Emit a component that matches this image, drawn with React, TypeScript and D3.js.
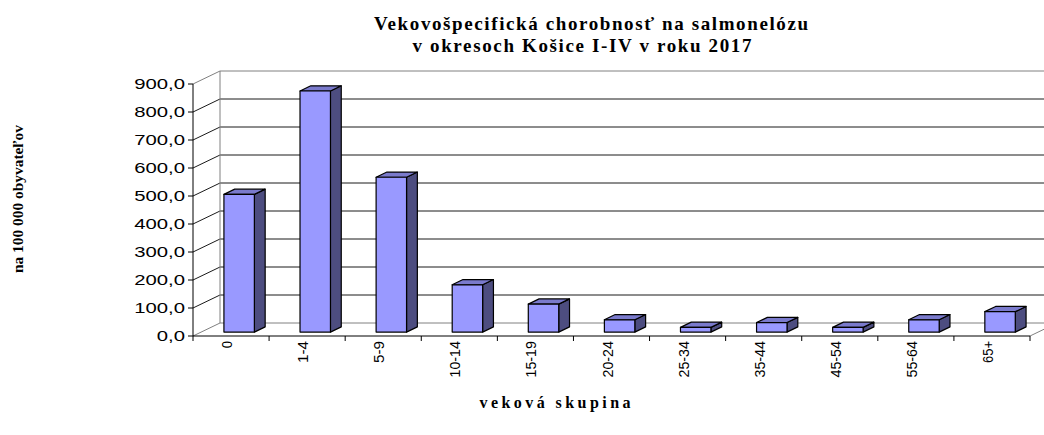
import React from "react";
import * as d3 from "d3";

const categories = ["0", "1-4", "5-9", "10-14", "15-19", "20-24", "25-34", "35-44", "45-54", "55-64", "65+"];
const values = [492, 861, 553, 169, 100, 44, 17, 34, 17, 44, 73];
const yTicks = [0, 100, 200, 300, 400, 500, 600, 700, 800, 900];

const titleLines = ["Vekovošpecifická chorobnosť na salmonelózu", "v okresoch Košice I-IV v roku 2017"];
const yTitle = "na 100 000 obyvateľov";
const xTitle = "veková skupina";

// depth offset of the back wall
const DX = 27;
const DY = 13;
const Z0 = 0.3;
const Z1 = 0.7;

export default function App() {
  const x = d3.scaleBand<string>().domain(categories).range([193, 1030]).paddingInner(0);
  const y = d3.scaleLinear().domain([0, 900]).range([336, 84]);
  const fmt = (v: number) => d3.format(".1f")(v).replace(".", ",");
  const barW = x.bandwidth() * 0.4;

  const pt = (px: number, py: number, z: number) => `${px + z * DX},${py - z * DY}`;

  return (
    <svg width={1044} height={435} style={{ position: "absolute", left: 0, top: 0, background: "#fff" }}>
      {/* title */}
      <g fontFamily="'Liberation Serif', 'Times New Roman', serif" fontWeight="bold" fontSize={19} textAnchor="middle" fill="#000">
        <text x={591} y={30} textLength={434} lengthAdjust="spacing">{titleLines[0]}</text>
        <text x={582} y={52} textLength={339} lengthAdjust="spacing">{titleLines[1]}</text>
      </g>

      {/* back wall and left wall gridlines */}
      {yTicks.map((t) => {
        const yy = y(t);
        const edge = t === 0 || t === 900;
        return (
          <g key={t} stroke={edge ? "#808080" : "#1a1a1a"} strokeWidth={1}>
            <line x1={193} y1={yy} x2={193 + DX} y2={yy - DY} />
            <line x1={193 + DX} y1={yy - DY} x2={1030 + DX} y2={yy - DY} />
          </g>
        );
      })}
      <line x1={193 + DX} y1={y(0) - DY} x2={193 + DX} y2={y(900) - DY} stroke="#808080" />
      <line x1={1030} y1={y(0)} x2={1030 + DX} y2={y(0) - DY} stroke="#808080" />

      {/* bars */}
      {categories.map((c, i) => {
        const cx = (x(c) as number) + x.bandwidth() / 2;
        const l = cx - barW / 2;
        const r = cx + barW / 2;
        const top = y(values[i]);
        const base = y(0);
        return (
          <g key={c} stroke="#000" strokeWidth={1.2} strokeLinejoin="round">
            <polygon points={[pt(r, base, Z0), pt(r, base, Z1), pt(r, top, Z1), pt(r, top, Z0)].join(" ")} fill="#4D4D80" />
            <polygon points={[pt(l, top, Z0), pt(r, top, Z0), pt(r, top, Z1), pt(l, top, Z1)].join(" ")} fill="#7A7ACC" />
            <polygon points={[pt(l, base, Z0), pt(r, base, Z0), pt(r, top, Z0), pt(l, top, Z0)].join(" ")} fill="#9999FF" />
          </g>
        );
      })}

      {/* axes */}
      <line x1={193} y1={y(0)} x2={1030} y2={y(0)} stroke="#000" />
      <line x1={193} y1={y(0)} x2={193} y2={y(900)} stroke="#000" />
      {yTicks.map((t) => (
        <g key={t}>
          <line x1={188} y1={y(t)} x2={193} y2={y(t)} stroke="#000" />
          <g transform={`translate(185,${y(t) + 5}) scale(1.45,1)`}>
            <text fontFamily="'Liberation Sans', Arial, sans-serif" fontSize={14} textAnchor="end" fill="#000">{fmt(t)}</text>
          </g>
        </g>
      ))}
      {categories.map((c) => (
        <line key={c} x1={x(c) as number} y1={y(0)} x2={x(c) as number} y2={y(0) + 5} stroke="#000" />
      ))}
      <line x1={1030} y1={y(0)} x2={1030} y2={y(0) + 5} stroke="#000" />
      {categories.map((c) => (
        <text
          key={c}
          transform={`translate(${(x(c) as number) + x.bandwidth() / 2 + 1},341) rotate(-90)`}
          fontFamily="'Liberation Sans', Arial, sans-serif"
          fontSize={15}
          textAnchor="end"
          fill="#000"
          textLength={c.length * 7.3}
          lengthAdjust="spacingAndGlyphs"
        >
          {c}
        </text>
      ))}

      {/* axis titles */}
      <text
        transform="translate(23,199) rotate(-90)"
        fontFamily="'Liberation Serif', 'Times New Roman', serif"
        fontWeight="bold"
        fontSize={14}
        textAnchor="middle"
        textLength={148}
        lengthAdjust="spacingAndGlyphs"
      >
        {yTitle}
      </text>
      <text
        x={555}
        y={408}
        fontFamily="'Liberation Serif', 'Times New Roman', serif"
        fontWeight="bold"
        fontSize={16}
        textAnchor="middle"
        textLength={151}
        lengthAdjust="spacing"
      >
        {xTitle}
      </text>
    </svg>
  );
}
